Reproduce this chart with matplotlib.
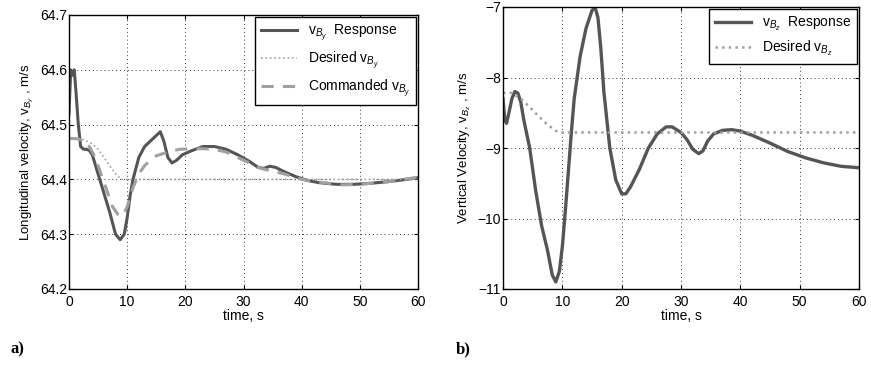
import matplotlib
matplotlib.use("Agg")
import matplotlib.pyplot as plt

plt.rcParams['font.family'] = ['Liberation Sans', 'DejaVu Sans']
plt.rcParams['mathtext.fontset'] = 'custom'
plt.rcParams['mathtext.rm'] = 'Liberation Sans'
plt.rcParams['mathtext.it'] = 'Liberation Sans:italic'

# panel a) longitudinal velocity
t_a_resp = [0, 0.3, 0.6, 0.9, 1.2, 1.6, 2.0, 2.5, 3.0, 3.5, 4, 5, 6, 7, 8, 8.8, 9.5, 10, 10.5,
            11, 12, 13, 14, 15, 15.7, 16.3, 17, 17.7, 18.5, 19.5, 21, 23, 25, 27, 29, 31,
            32.5, 33.5, 34.5, 35.5, 37, 39, 41, 43, 46, 49, 52, 55, 58, 60]
v_a_resp = [64.52, 64.60, 64.59, 64.60, 64.56, 64.50, 64.46, 64.455, 64.455, 64.453, 64.445,
            64.41, 64.375, 64.34, 64.30, 64.29, 64.30, 64.33, 64.37, 64.40, 64.44, 64.46,
            64.47, 64.48, 64.487, 64.47, 64.44, 64.43, 64.435, 64.445, 64.452, 64.46, 64.46,
            64.455, 64.445, 64.433, 64.422, 64.42, 64.424, 64.422, 64.414, 64.405, 64.398,
            64.394, 64.391, 64.391, 64.393, 64.396, 64.400, 64.403]
t_a_des = [0, 2, 3, 4, 5, 6, 7, 8, 9, 10, 60]
v_a_des = [64.475, 64.474, 64.47, 64.465, 64.455, 64.44, 64.425, 64.41, 64.40, 64.40, 64.40]
t_a_cmd = [0, 1.5, 2.5, 3.5, 4.5, 5.5, 6.5, 7.5, 8.5, 9.2, 10, 11, 12, 13, 14, 15, 17, 19,
           21, 23, 25, 27, 29, 31, 33, 35, 37, 40, 43, 47, 50, 55, 60]
v_a_cmd = [64.475, 64.474, 64.47, 64.46, 64.44, 64.41, 64.38, 64.35, 64.335, 64.333, 64.35,
           64.385, 64.41, 64.425, 64.435, 64.443, 64.45, 64.455, 64.456, 64.456, 64.455,
           64.45, 64.44, 64.43, 64.42, 64.415, 64.41, 64.40, 64.395, 64.39, 64.391, 64.396,
           64.404]

# panel b) vertical velocity
t_b_resp = [0, 0.3, 0.6, 1.0, 1.5, 2.0, 2.5, 3, 3.5, 4.5, 5.5, 6.5, 7.5, 8.3, 8.9, 9.5, 10,
            10.5, 11, 11.5, 12, 13, 14, 15, 15.5, 16, 16.5, 17, 18, 19, 20, 20.7, 21.5, 23,
            24.5, 26, 27.5, 28.5, 30, 31, 32, 33, 33.7, 34.5, 35.5, 37, 38.5, 40, 42, 45,
            48, 51, 54, 57, 60]
v_b_resp = [-8.3, -8.6, -8.65, -8.5, -8.3, -8.2, -8.22, -8.35, -8.6, -9.0, -9.6, -10.1,
            -10.45, -10.8, -10.9, -10.75, -10.4, -9.9, -9.35, -8.8, -8.3, -7.7, -7.3, -7.05,
            -7.0, -7.15, -7.6, -8.2, -9.0, -9.45, -9.65, -9.65, -9.55, -9.3, -9.0, -8.8,
            -8.7, -8.7, -8.78, -8.88, -9.02, -9.08, -9.04, -8.9, -8.8, -8.75, -8.74, -8.76,
            -8.82, -8.93, -9.05, -9.14, -9.21, -9.26, -9.28]
t_b_des = [0, 1.5, 3, 4.5, 6, 7.5, 9, 10, 60]
v_b_des = [-8.22, -8.22, -8.3, -8.42, -8.55, -8.67, -8.76, -8.78, -8.78]

dark = '#555555'
light = '#a0a0a0'
fs = 10

fig = plt.figure(figsize=(8.71, 3.65), dpi=100)
ax1 = fig.add_axes([69 / 871, 1 - 289 / 365, 349 / 871, 274 / 365])
ax2 = fig.add_axes([503 / 871, 1 - 289 / 365, 356 / 871, 282 / 365])

ax1.plot(t_a_resp, v_a_resp, color=dark, lw=2.2, label=r'v$_{B_y}$  Response')
ax1.plot(t_a_des, v_a_des, color=light, lw=1.2, ls=':', label=r'Desired v$_{B_y}$')
ax1.plot(t_a_cmd, v_a_cmd, color=light, lw=2.2, ls='--', dashes=(4, 3),
         label=r'Commanded v$_{B_y}$')
ax1.set_xlim(0, 60)
ax1.set_ylim(64.2, 64.7)
ax1.set_yticks([64.2, 64.3, 64.4, 64.5, 64.6, 64.7])
ax1.set_xlabel('time, s', fontsize=fs, labelpad=0)
ax1.set_ylabel(r'Longitudinal velocity, v$_{B_y}$ , m/s', fontsize=9.5, labelpad=3)

ax2.plot(t_b_resp, v_b_resp, color=dark, lw=2.4, label=r'v$_{B_z}$  Response')
ax2.plot(t_b_des, v_b_des, color=light, lw=1.8, ls=':', label=r'Desired v$_{B_z}$')
ax2.set_xlim(0, 60)
ax2.set_ylim(-11, -7)
ax2.set_yticks([-11, -10, -9, -8, -7])
ax2.set_yticklabels(['\u221211', '\u221210', '\u22129', '\u22128', '\u22127'])
ax2.set_xlabel('time, s', fontsize=fs, labelpad=0)
ax2.set_ylabel(r'Vertical Velocity, v$_{B_z}$ , m/s', fontsize=9.5, labelpad=3)

for ax in (ax1, ax2):
    ax.set_xticks([0, 10, 20, 30, 40, 50, 60])
    ax.grid(True, color='#333333', ls=(0, (1, 3)), lw=0.7)
    ax.tick_params(direction='in', labelsize=fs, length=3)
    ax.tick_params(axis='x', pad=4)
    ax.tick_params(axis='y', pad=1.5)
    ax.tick_params(top=True, right=True)
    for s in ax.spines.values():
        s.set_linewidth(1.0)
    leg = ax.legend(loc='upper right', fontsize=fs, frameon=True, fancybox=False,
                    edgecolor='black', handlelength=2.6, borderaxespad=0.15,
                    labelspacing=0.45, framealpha=1)
    leg.get_frame().set_linewidth(1.0)

fig.text(10 / 871, 1 - 349 / 365, 'a)', fontsize=12, fontweight='bold',
         family='Liberation Serif', va='center')
fig.text(456 / 871, 1 - 349 / 365, 'b)', fontsize=12, fontweight='bold',
         family='Liberation Serif', va='center')

fig.savefig('out.png', dpi=100)
